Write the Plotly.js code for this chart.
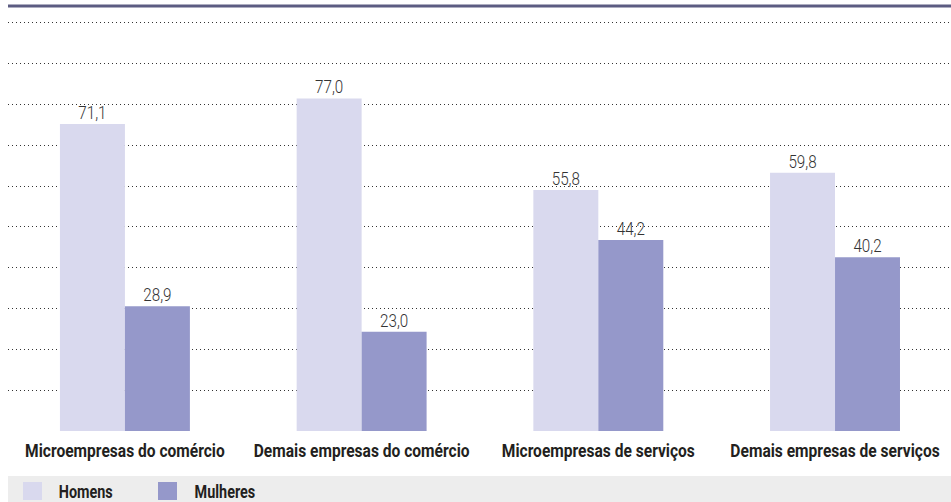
<!DOCTYPE html>
<html>
<head>
<meta charset="utf-8">
<script src="https://cdn.plot.ly/plotly-3.0.1.min.js"></script>
<style>
html,body{margin:0;padding:0;background:#fff;}
#chart{width:951px;height:502px;}
</style>
</head>
<body>
<div id="chart"></div>
<script>
const categories = ["Microempresas do comércio", "Demais empresas do comércio", "Microempresas de serviços", "Demais empresas de serviços"];
const seriesNames = ["Homens", "Mulheres"];
const homens = [71.1, 77.0, 55.8, 59.8];
const mulheres = [28.9, 23.0, 44.2, 40.2];
const colors = ["#d9d9ee", "#9598ca"];

const FAM = "Roboto, 'Liberation Sans', sans-serif";
const labelFont = {family: FAM, size: 19, color: "#333333", weight: 300};
const boldFont = {family: FAM, size: 19, color: "#231f20", weight: "bold"};
const legendFont = {family: FAM, size: 18, color: "#231f20", weight: "bold"};

const traces = [homens, mulheres].map((vals, i) => ({
  type: "bar",
  name: seriesNames[i],
  x: categories,
  y: vals,
  marker: {color: colors[i], line: {width: 0}},
  text: vals.map(v => v.toFixed(1).replace(".", ",")),
  textposition: "outside",
  textfont: labelFont,
  cliponaxis: false,
  hoverinfo: "skip",
  showlegend: false
}));

const gridStep = 9.45;
const gridVals = [];
for (let k = 0; k <= 10; k++) gridVals.push(k * gridStep);

const shapes = [
  {type: "rect", xref: "paper", yref: "paper", x0: 0, x1: 1, y0: -0.1059, y1: -0.167, fillcolor: "#ededed", line: {width: 0}, layer: "below"},
  {type: "line", xref: "paper", yref: "paper", x0: 0, x1: 1, y0: 1, y1: 1, line: {color: "#5c5c82", width: 3}}
];
const annotations = [];
const legendX = [23, 158];
const legendTextCenter = [85.5, 225];
seriesNames.forEach((n, i) => {
  const x0 = (legendX[i] - 8) / 943, x1 = (legendX[i] + 19 - 8) / 943;
  shapes.push({type: "rect", xref: "paper", yref: "paper", x0: x0, x1: x1,
    y0: (431 - 500) / 425, y1: (431 - 482) / 425, fillcolor: colors[i], line: {width: 0}});
  annotations.push({xref: "paper", yref: "paper", x: (legendTextCenter[i] - 8) / 943, y: (431 - 491.5) / 425,
    xanchor: "center", yanchor: "middle", showarrow: false, text: n,
    font: legendFont});
});

const layout = {
  width: 951, height: 502,
  margin: {l: 8, r: 0, t: 6, b: 71},
  paper_bgcolor: "#ffffff", plot_bgcolor: "#ffffff",
  barmode: "group", bargap: 0.451, bargroupgap: 0,
  separators: ",.",
  showlegend: false,
  xaxis: {
    range: [-0.494, 3.490], showgrid: false, zeroline: false, showline: false, ticks: "",
    tickangle: 0, tickfont: boldFont, ticklabelstandoff: 6,
    fixedrange: true
  },
  yaxis: {
    range: [0, 98.4], tickvals: gridVals, showticklabels: false, showgrid: true,
    gridcolor: "#333333", griddash: "1px,3px", gridwidth: 1, zeroline: false, showline: false, ticks: "",
    fixedrange: true
  },
  shapes: shapes,
  annotations: annotations
};

// Condense glyphs horizontally (the reference uses a condensed typeface)
function condense(selector, factor, dy) {
  document.querySelectorAll(selector).forEach(t => {
    const w = t.getComputedTextLength();
    if (w > 0) {
      t.setAttribute("textLength", (w * factor).toFixed(2));
      t.setAttribute("lengthAdjust", "spacingAndGlyphs");
      if (dy) t.setAttribute("y", (parseFloat(t.getAttribute("y") || "0") + dy).toFixed(2));
    }
  });
}
// Horizontal scale about the text's own anchor point (keeps centre under the bars)
function squeeze(selector, factor) {
  document.querySelectorAll(selector).forEach(t => {
    const cx = parseFloat(t.getAttribute("x") || "0");
    const prev = t.getAttribute("transform") || "";
    t.setAttribute("transform", prev + " translate(" + cx + ",0) scale(" + factor + ",1) translate(" + (-cx) + ",0)");
  });
}

Plotly.newPlot("chart", traces, layout, {displayModeBar: false, staticPlot: true}).then(() => {
  squeeze("#chart .xtick text", 0.82);
  condense("#chart .bartext", 0.8, 3);
  condense("#chart .annotation-text", 0.8);
});
</script>
</body>
</html>
